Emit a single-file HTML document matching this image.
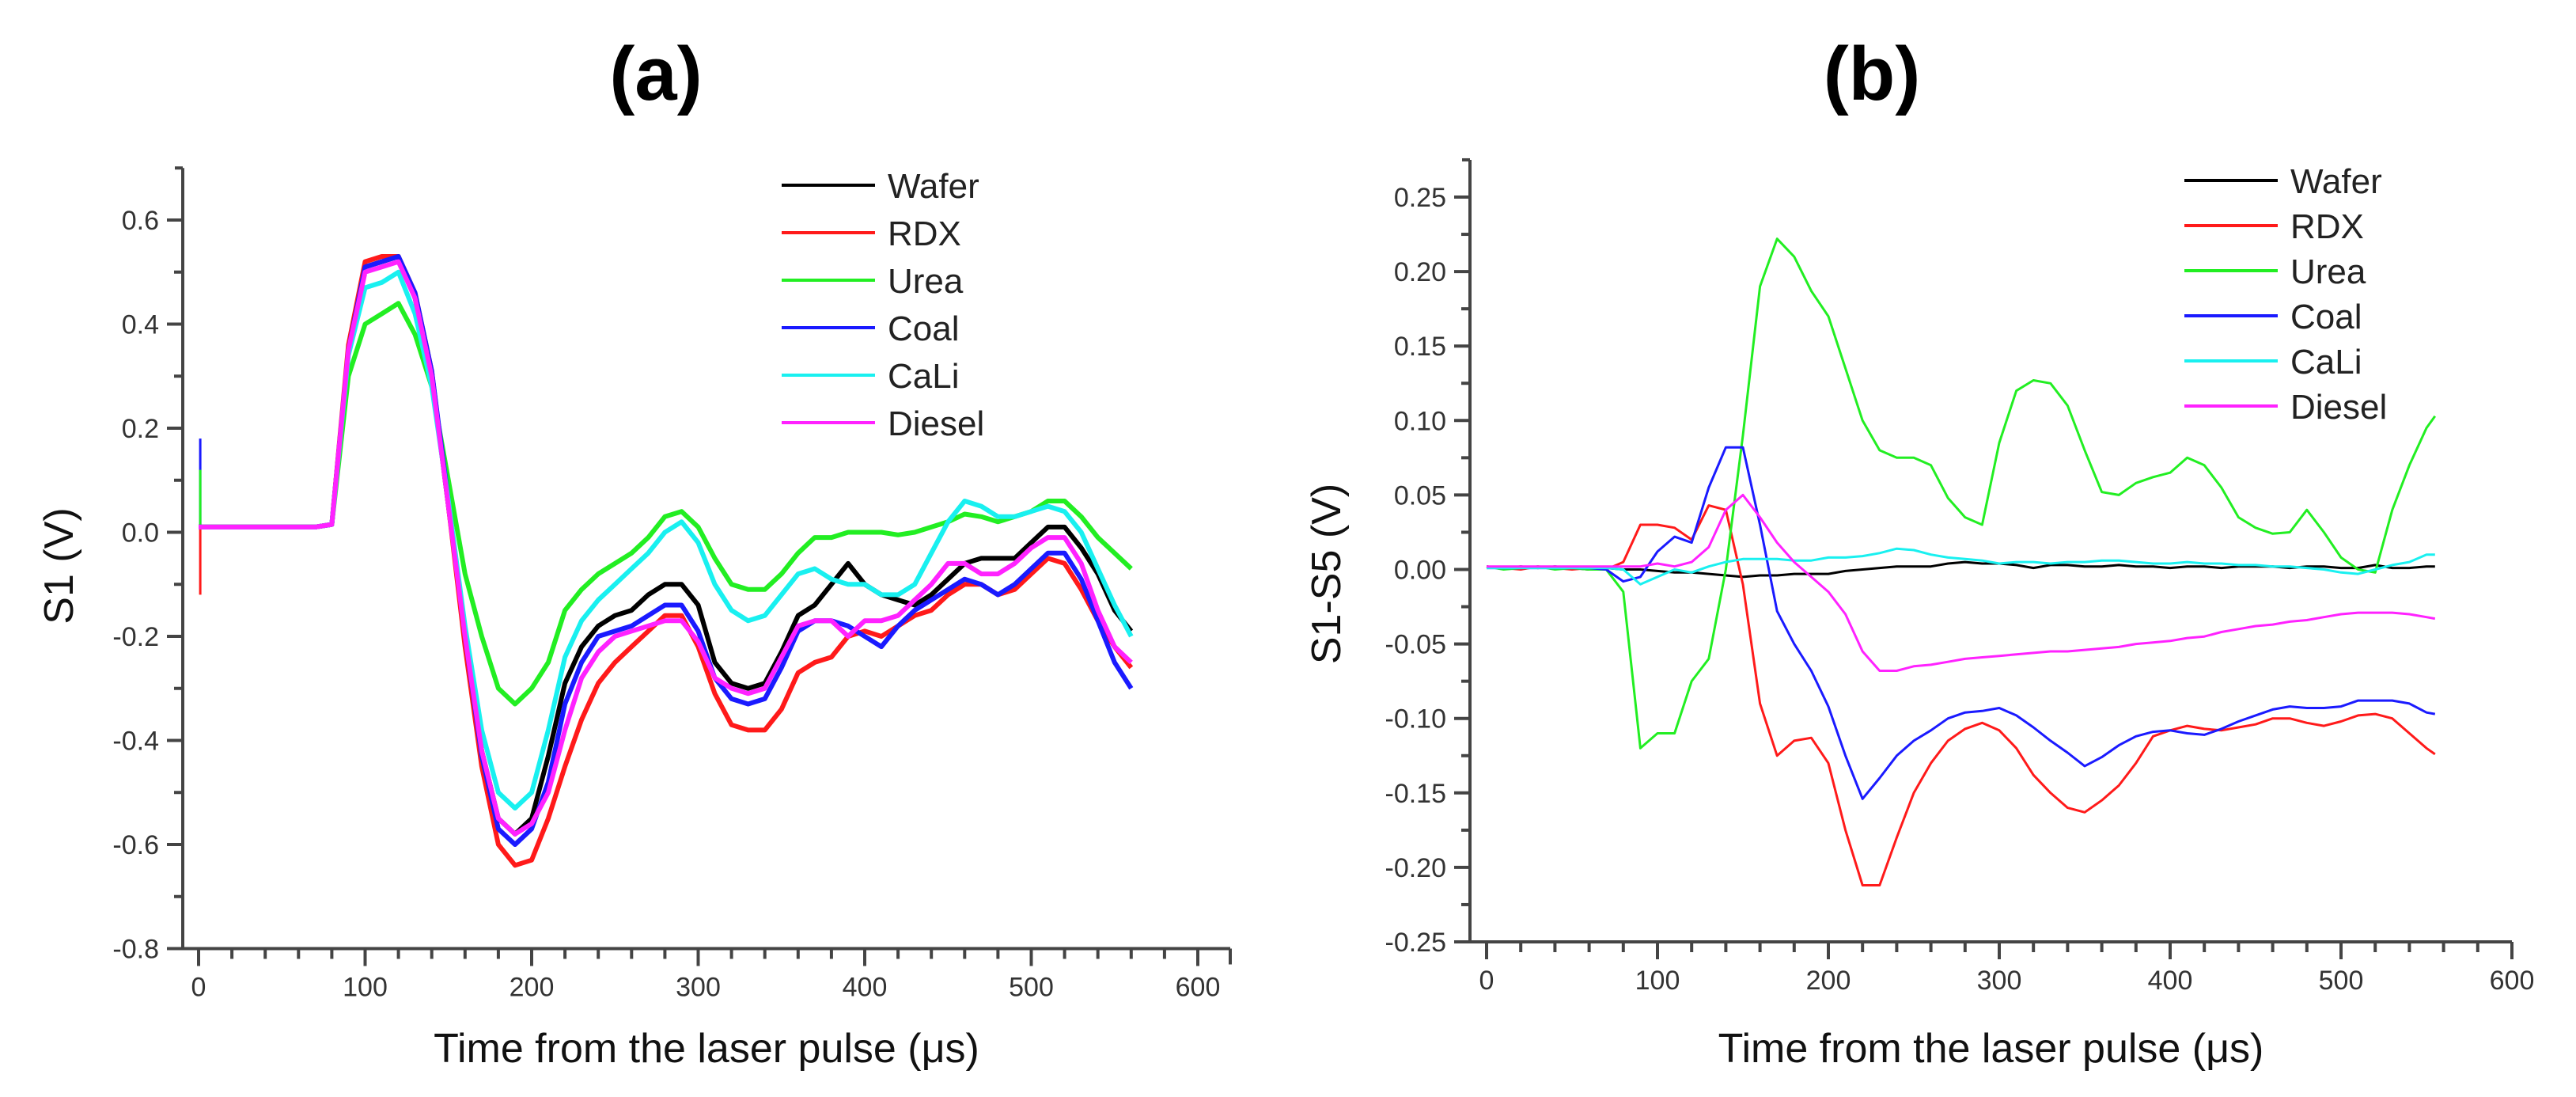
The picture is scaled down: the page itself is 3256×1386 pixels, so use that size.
<!DOCTYPE html>
<html><head><meta charset="utf-8">
<style>
html,body{margin:0;padding:0;background:#fff;}
svg{display:block;font-family:"Liberation Sans",Arial,sans-serif;}
</style></head>
<body>
<svg id="fig" width="3256" height="1386" viewBox="0 0 3256 1386" xmlns="http://www.w3.org/2000/svg">
<text x="829" y="126" font-size="96" font-weight="bold" text-anchor="middle" fill="#000">(a)</text>
<text x="2366" y="126" font-size="96" font-weight="bold" text-anchor="middle" fill="#000">(b)</text>
<g id="pa"></g>
<g id="pb"></g>
</svg>
<script>
// ---------- Panel (a) data ----------
const timesA = [0,10,20,30,40,50,60,70,80,90,100,110,120,130,140,150,160,170,180,190,200,210,220,230,240,250,260,270,280,290,300,310,320,330,340,350,360,370,380,390,400,410,420,430,440,450,460,470,480,490,500,510,520,530,540,550,560];
const waferA = [0.01,0.01,0.01,0.01,0.01,0.01,0.01,0.01,0.015,0.35,0.51,0.52,0.53,0.45,0.3,0.05,-0.2,-0.42,-0.55,-0.58,-0.55,-0.43,-0.29,-0.22,-0.18,-0.16,-0.15,-0.12,-0.1,-0.1,-0.14,-0.25,-0.29,-0.3,-0.29,-0.23,-0.16,-0.14,-0.1,-0.06,-0.1,-0.12,-0.13,-0.14,-0.12,-0.09,-0.06,-0.05,-0.05,-0.05,-0.02,0.01,0.01,-0.03,-0.08,-0.15,-0.19];
const rdxA = [0.01,0.01,0.01,0.01,0.01,0.01,0.01,0.01,0.015,0.36,0.52,0.53,0.53,0.46,0.31,0.05,-0.22,-0.45,-0.6,-0.64,-0.63,-0.55,-0.45,-0.36,-0.29,-0.25,-0.22,-0.19,-0.16,-0.16,-0.22,-0.31,-0.37,-0.38,-0.38,-0.34,-0.27,-0.25,-0.24,-0.2,-0.19,-0.2,-0.18,-0.16,-0.15,-0.12,-0.1,-0.1,-0.12,-0.11,-0.08,-0.05,-0.06,-0.11,-0.17,-0.22,-0.26];
const ureaA = [0.01,0.01,0.01,0.01,0.01,0.01,0.01,0.01,0.015,0.3,0.4,0.42,0.44,0.38,0.28,0.1,-0.08,-0.2,-0.3,-0.33,-0.3,-0.25,-0.15,-0.11,-0.08,-0.06,-0.04,-0.01,0.03,0.04,0.01,-0.05,-0.1,-0.11,-0.11,-0.08,-0.04,-0.01,-0.01,0,0,0,-0.005,0,0.01,0.02,0.035,0.03,0.02,0.03,0.04,0.06,0.06,0.03,-0.01,-0.04,-0.07];
const coalA = [0.01,0.01,0.01,0.01,0.01,0.01,0.01,0.01,0.015,0.35,0.51,0.52,0.53,0.46,0.31,0.06,-0.2,-0.43,-0.57,-0.6,-0.57,-0.48,-0.33,-0.25,-0.2,-0.19,-0.18,-0.16,-0.14,-0.14,-0.19,-0.28,-0.32,-0.33,-0.32,-0.26,-0.19,-0.17,-0.17,-0.18,-0.2,-0.22,-0.18,-0.15,-0.13,-0.11,-0.09,-0.1,-0.12,-0.1,-0.07,-0.04,-0.04,-0.09,-0.17,-0.25,-0.3];
const caliA = [0.01,0.01,0.01,0.01,0.01,0.01,0.01,0.01,0.015,0.34,0.47,0.48,0.5,0.42,0.28,0.06,-0.18,-0.38,-0.5,-0.53,-0.5,-0.38,-0.24,-0.17,-0.13,-0.1,-0.07,-0.04,0,0.02,-0.02,-0.1,-0.15,-0.17,-0.16,-0.12,-0.08,-0.07,-0.09,-0.1,-0.1,-0.12,-0.12,-0.1,-0.04,0.02,0.06,0.05,0.03,0.03,0.04,0.05,0.04,0,-0.07,-0.14,-0.2];
const dieselA = [0.01,0.01,0.01,0.01,0.01,0.01,0.01,0.01,0.015,0.35,0.5,0.51,0.52,0.45,0.3,0.05,-0.2,-0.42,-0.55,-0.58,-0.56,-0.5,-0.38,-0.28,-0.23,-0.2,-0.19,-0.18,-0.17,-0.17,-0.21,-0.28,-0.3,-0.31,-0.3,-0.24,-0.18,-0.17,-0.17,-0.2,-0.17,-0.17,-0.16,-0.13,-0.1,-0.06,-0.06,-0.08,-0.08,-0.06,-0.03,-0.01,-0.01,-0.06,-0.15,-0.22,-0.25];
const spikeTimeA = 1;
const spikeValsA = [0.18, 0.12, -0.12];
const yTicksA = ["0.6","0.4","0.2","0.0","-0.2","-0.4","-0.6","-0.8"];
const xTicks = ["0","100","200","300","400","500","600"];
const legendNames = ["Wafer","RDX","Urea","Coal","CaLi","Diesel"];

// ---------- Panel (b) data ----------
const timesB = [0,10,20,30,40,50,60,70,80,90,100,110,120,130,140,150,160,170,180,190,200,210,220,230,240,250,260,270,280,290,300,310,320,330,340,350,360,370,380,390,400,410,420,430,440,450,460,470,480,490,500,510,520,530,540,550,555];
const waferB = [0.002,0.001,0.002,0.001,0.002,0.001,0.0,0.001,0.0,0.0,-0.001,-0.002,-0.002,-0.003,-0.004,-0.005,-0.004,-0.004,-0.003,-0.003,-0.003,-0.001,0.0,0.001,0.002,0.002,0.002,0.004,0.005,0.004,0.004,0.003,0.001,0.003,0.003,0.002,0.002,0.003,0.002,0.002,0.001,0.002,0.002,0.001,0.002,0.002,0.002,0.001,0.002,0.002,0.001,0.001,0.003,0.001,0.001,0.002,0.002];
const rdxB = [0.002,0.001,0.0,0.002,0.001,0.0,0.001,0.0,0.005,0.03,0.03,0.028,0.02,0.043,0.04,-0.01,-0.09,-0.125,-0.115,-0.113,-0.13,-0.175,-0.212,-0.212,-0.18,-0.15,-0.13,-0.115,-0.107,-0.103,-0.108,-0.12,-0.138,-0.15,-0.16,-0.163,-0.155,-0.145,-0.13,-0.112,-0.108,-0.105,-0.107,-0.108,-0.106,-0.104,-0.1,-0.1,-0.103,-0.105,-0.102,-0.098,-0.097,-0.1,-0.11,-0.12,-0.124];
const ureaB = [0.002,0.0,0.001,0.002,0.0,0.001,0.0,0.0,-0.015,-0.12,-0.11,-0.11,-0.075,-0.06,0.0,0.09,0.19,0.222,0.21,0.187,0.17,0.135,0.1,0.08,0.075,0.075,0.07,0.048,0.035,0.03,0.085,0.12,0.127,0.125,0.11,0.08,0.052,0.05,0.058,0.062,0.065,0.075,0.07,0.055,0.035,0.028,0.024,0.025,0.04,0.025,0.008,0.0,-0.002,0.04,0.07,0.095,0.103];
const coalB = [0.001,0.001,0.001,0.001,0.001,0.001,0.001,0.0,-0.008,-0.005,0.012,0.022,0.018,0.055,0.082,0.082,0.03,-0.028,-0.05,-0.068,-0.092,-0.125,-0.154,-0.14,-0.125,-0.115,-0.108,-0.1,-0.096,-0.095,-0.093,-0.098,-0.106,-0.115,-0.123,-0.132,-0.126,-0.118,-0.112,-0.109,-0.108,-0.11,-0.111,-0.107,-0.102,-0.098,-0.094,-0.092,-0.093,-0.093,-0.092,-0.088,-0.088,-0.088,-0.09,-0.096,-0.097];
const caliB = [0.001,0.001,0.001,0.001,0.001,0.001,0.001,0.001,0.0,-0.01,-0.005,0.0,-0.002,0.002,0.005,0.007,0.007,0.007,0.006,0.006,0.008,0.008,0.009,0.011,0.014,0.013,0.01,0.008,0.007,0.006,0.004,0.005,0.005,0.004,0.005,0.005,0.006,0.006,0.005,0.004,0.004,0.005,0.004,0.004,0.003,0.003,0.002,0.002,0.001,0.0,-0.002,-0.003,0.0,0.003,0.005,0.01,0.01];
const dieselB = [0.002,0.002,0.002,0.002,0.002,0.002,0.002,0.002,0.002,0.002,0.004,0.002,0.005,0.015,0.04,0.05,0.035,0.018,0.005,-0.005,-0.015,-0.03,-0.055,-0.068,-0.068,-0.065,-0.064,-0.062,-0.06,-0.059,-0.058,-0.057,-0.056,-0.055,-0.055,-0.054,-0.053,-0.052,-0.05,-0.049,-0.048,-0.046,-0.045,-0.042,-0.04,-0.038,-0.037,-0.035,-0.034,-0.032,-0.03,-0.029,-0.029,-0.029,-0.03,-0.032,-0.033];
const yTicksB = ["0.25","0.20","0.15","0.10","0.05","0.00","-0.05","-0.10","-0.15","-0.20","-0.25"];

const colors = ["#000000","#ff1a1a","#22ee22","#1a1aff","#19f0f0","#ff22ff"];
const NS = "http://www.w3.org/2000/svg";
function mk(tag, attrs, parent){const e=document.createElementNS(NS,tag);for(const k in attrs)e.setAttribute(k,attrs[k]);parent.appendChild(e);return e;}

function drawPanel(g, cfg){
  const xs = v => cfg.x0 + (v - 0) * cfg.xk;
  const ys = v => cfg.yTop + (cfg.yMax - v) * cfg.yk;
  const ax = "#444";
  const yAxis = mk("line",{x1:cfg.axL,y1:ys(cfg.yAxisTop),x2:cfg.axL,y2:ys(cfg.yMin),stroke:ax,"stroke-width":4},g);
  
  
  const xAxis = mk("line",{x1:cfg.axL-18,y1:ys(cfg.yMin),x2:cfg.axR,y2:ys(cfg.yMin),stroke:ax,"stroke-width":4},g);
  
  
  mk("line",{x1:cfg.axL,y1:ys(cfg.yAxisTop),x2:cfg.axL-10,y2:ys(cfg.yAxisTop),stroke:ax,"stroke-width":4},g);
  mk("line",{x1:cfg.axR,y1:ys(cfg.yMin),x2:cfg.axR,y2:ys(cfg.yMin)+20,stroke:ax,"stroke-width":4},g);
  cfg.yTicks.forEach((lab,i)=>{
    const v = cfg.yMax - i*cfg.yStep;
    const y = ys(v);
    mk("line",{x1:cfg.axL-20,y1:y,x2:cfg.axL,y2:y,stroke:ax,"stroke-width":4},g);
    if(i < cfg.yTicks.length-1) mk("line",{x1:cfg.axL-11,y1:ys(v-cfg.yStep/2),x2:cfg.axL,y2:ys(v-cfg.yStep/2),stroke:ax,"stroke-width":4},g);
    const t = mk("text",{x:cfg.axL-30,y:y+12,"font-size":34,"text-anchor":"end",fill:"#333"},g);
    t.textContent = lab;
    
    
  });
  xTicks.forEach((lab,i)=>{
    const v = i*100;
    const x = xs(v);
    mk("line",{x1:x,y1:ys(cfg.yMin),x2:x,y2:ys(cfg.yMin)+22,stroke:ax,"stroke-width":4},g);
    if(i < xTicks.length-1) for(let m=1;m<5;m++){const xm=xs(v+m*20);mk("line",{x1:xm,y1:ys(cfg.yMin),x2:xm,y2:ys(cfg.yMin)+13,stroke:ax,"stroke-width":4},g);}
    const t = mk("text",{x:x,y:ys(cfg.yMin)+60,"font-size":34,"text-anchor":"middle",fill:"#333"},g);
    t.textContent = lab;
    
    
  });
  const xt = mk("text",{x:(cfg.axL+cfg.axR)/2,y:cfg.xTitleY,"font-size":52,"text-anchor":"middle",fill:"#111"},g);
  xt.textContent = "Time from the laser pulse (\u03bcs)";
  
  
  const yt = mk("text",{x:0,y:0,"font-size":52,"text-anchor":"middle",fill:"#111",transform:`translate(${cfg.yTitleX},${cfg.yTitleY}) rotate(-90)`},g);
  yt.textContent = cfg.yTitle;
  
  
  if(cfg.spikes){
    const spColors=[colors[3],colors[2],colors[1]];
    cfg.spikes.forEach((v,i)=>{
      const s = mk("line",{x1:xs(spikeTimeA),y1:ys(0.01),x2:xs(spikeTimeA),y2:ys(v),stroke:spColors[i],"stroke-width":3},g);
      
      
    });
  }
  cfg.series.forEach((vals,si)=>{
    let d="";
    vals.forEach((v,i)=>{d+=(i?"L":"M")+xs(cfg.times[i]).toFixed(1)+","+ys(v).toFixed(1);});
    const p = mk("path",{d:d,fill:"none",stroke:colors[si],"stroke-width":cfg.sw,"stroke-linejoin":"round"},g);
    
    
  });
  legendNames.forEach((n,i)=>{
    const y = cfg.legY + i*cfg.legStep;
    const lg = mk("g",{},g);
    
    
    mk("line",{x1:cfg.legX,y1:y,x2:cfg.legX+118,y2:y,stroke:colors[i],"stroke-width":4},lg);
    const t = mk("text",{x:cfg.legX+134,y:y+16,"font-size":44,fill:"#222"},lg);
    t.textContent = n;
  });
}

drawPanel(document.getElementById("pa"),{
  id:"panel-a", x0:251, xk:2.105, yTop:278, yMax:0.6, yk:657.5, yStep:0.2, yMin:-0.8, yAxisTop:0.7,
  axL:231, axR:1555, yTicks:yTicksA, yTitle:"S1 (V)", yTitleX:92, yTitleY:715, xTitleY:1342,
  times:timesA, series:[waferA,rdxA,ureaA,coalA,caliA,dieselA], sw:6, spikes:spikeValsA,
  legX:988, legY:234, legStep:60
});
drawPanel(document.getElementById("pb"),{
  id:"panel-b", x0:1879, xk:2.16, yTop:249, yMax:0.25, yk:1882, yStep:0.05, yMin:-0.25, yAxisTop:0.275,
  axL:1858, axR:3175, yTicks:yTicksB, yTitle:"S1-S5 (V)", yTitleX:1694, yTitleY:725, xTitleY:1342,
  times:timesB, series:[waferB,rdxB,ureaB,coalB,caliB,dieselB], sw:3,
  legX:2761, legY:228, legStep:57
});
</script>
</body></html>
